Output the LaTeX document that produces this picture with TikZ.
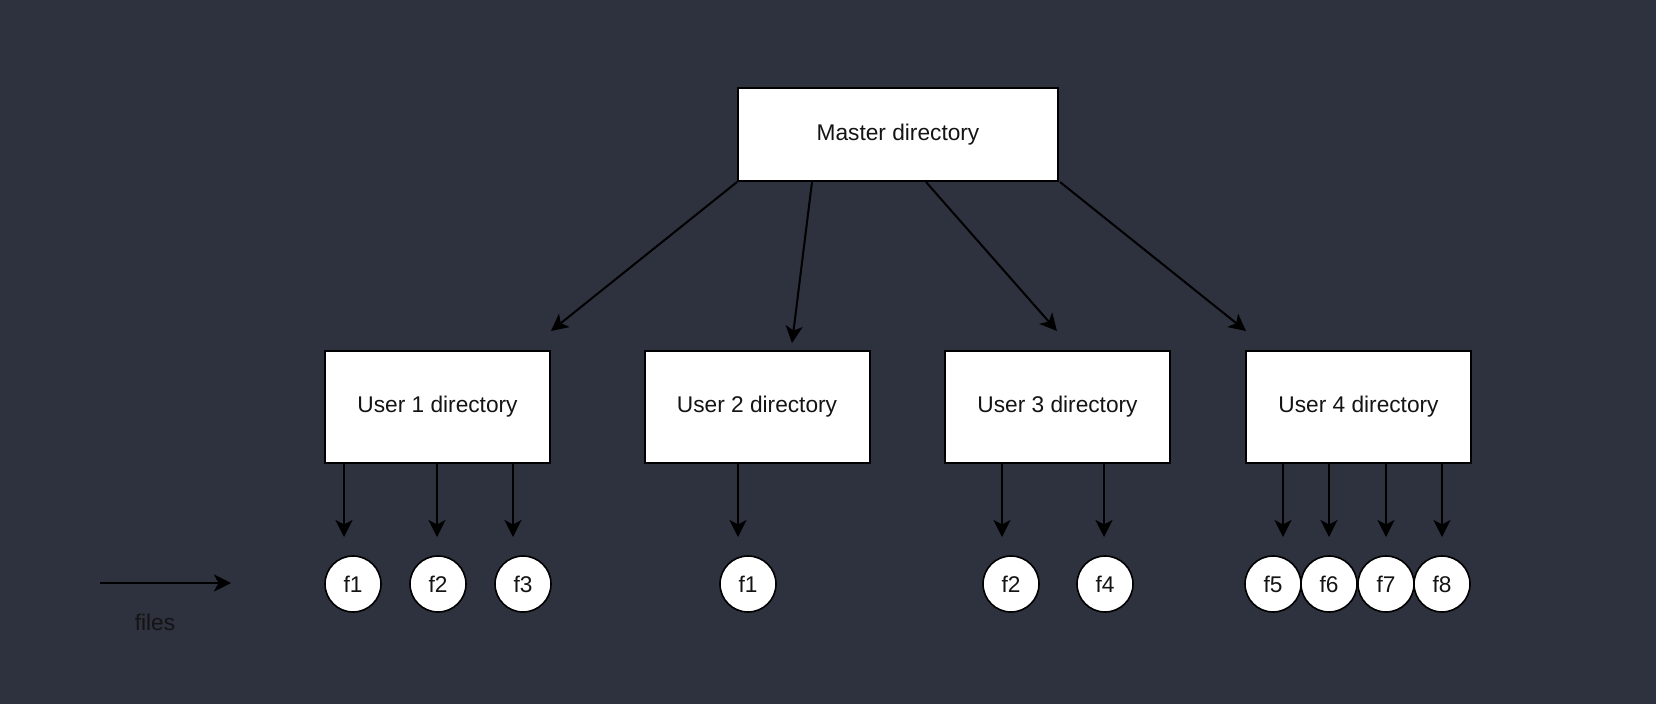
\documentclass[tikz,border=0pt]{standalone}
\usepackage{fontspec}
\setmainfont{Liberation Sans}
\usetikzlibrary{arrows.meta,calc}
\definecolor{bg}{RGB}{46,49,62}
\definecolor{txt}{RGB}{20,20,20}
\begin{document}
\begin{tikzpicture}[x=1pt,y=-1pt,
  box/.style={draw=black,line width=2pt,fill=white,minimum width=#1,inner sep=0pt,font=\fontsize{22.7}{27}\selectfont,text=txt},
  box/.default=225pt,
  filenode/.style={circle,draw=black,line width=1.6pt,fill=white,minimum size=56pt,inner sep=0pt,font=\fontsize{22.7}{27}\selectfont,text=txt},
  arr/.style={draw=black,line width=2pt,-{Stealth[length=17pt,width=17pt,inset=4.5pt]}}]
\fill[bg] (0,0) rectangle (1656,704);
\useasboundingbox (0,0) rectangle (1656,704);
% master
\node[box=320pt,minimum height=93pt] (m) at (898,134.5) {Master directory};
% users
\node[box,minimum height=112pt] (u1) at (437.5,407) {User 1 directory};
\node[box,minimum height=112pt] (u2) at (757,407) {User 2 directory};
\node[box,minimum height=112pt] (u3) at (1057.5,407) {User 3 directory};
\node[box,minimum height=112pt] (u4) at (1358.5,407) {User 4 directory};
% arrow targets
\coordinate (t1) at (551,331);
\coordinate (t2) at (792,343);
\coordinate (t3) at (1057,331);
\coordinate (t4) at (1246,331);
\draw[arr] ($(m.south west)+(0,0)$) -- (t1);
\draw[arr] ($(m.south west)+(75,0)$) -- (t2);
\draw[arr] ($(m.south west)+(189,0)$) -- (t3);
\draw[arr] ($(m.south east)+(1,0)$) -- (t4);
% files
\node[filenode] (a1) at (353,584) {f1};
\node[filenode] (a2) at (438,584) {f2};
\node[filenode] (a3) at (523,584) {f3};
\node[filenode] (b1) at (748,584) {f1};
\node[filenode] (c2) at (1011,584) {f2};
\node[filenode] (c4) at (1105,584) {f4};
\node[filenode] (d5) at (1273,584) {f5};
\node[filenode] (d6) at (1329,584) {f6};
\node[filenode] (d7) at (1386,584) {f7};
\node[filenode] (d8) at (1442,584) {f8};
% file arrow tips
\coordinate (p1) at (344,537);
\coordinate (p2) at (437,537);
\coordinate (p3) at (513,537);
\coordinate (q1) at (738,537);
\coordinate (r1) at (1002,537);
\coordinate (r2) at (1104,537);
\coordinate (s1) at (1283,537);
\coordinate (s2) at (1329,537);
\coordinate (s3) at (1386,537);
\coordinate (s4) at (1442,537);
\foreach \p in {p1,p2,p3} \draw[arr] (u1.south -| \p) -- (\p);
\draw[arr] (u2.south -| q1) -- (q1);
\foreach \p in {r1,r2} \draw[arr] (u3.south -| \p) -- (\p);
\foreach \p in {s1,s2,s3,s4} \draw[arr] (u4.south -| \p) -- (\p);
% legend
\coordinate (l1) at (100,583);
\coordinate (l2) at (231,583);
\draw[arr] (l1) -- (l2);
\node[font=\fontsize{22.7}{27}\selectfont,text=txt] (lt) at (155,622) {files};
\end{tikzpicture}
\end{document}
